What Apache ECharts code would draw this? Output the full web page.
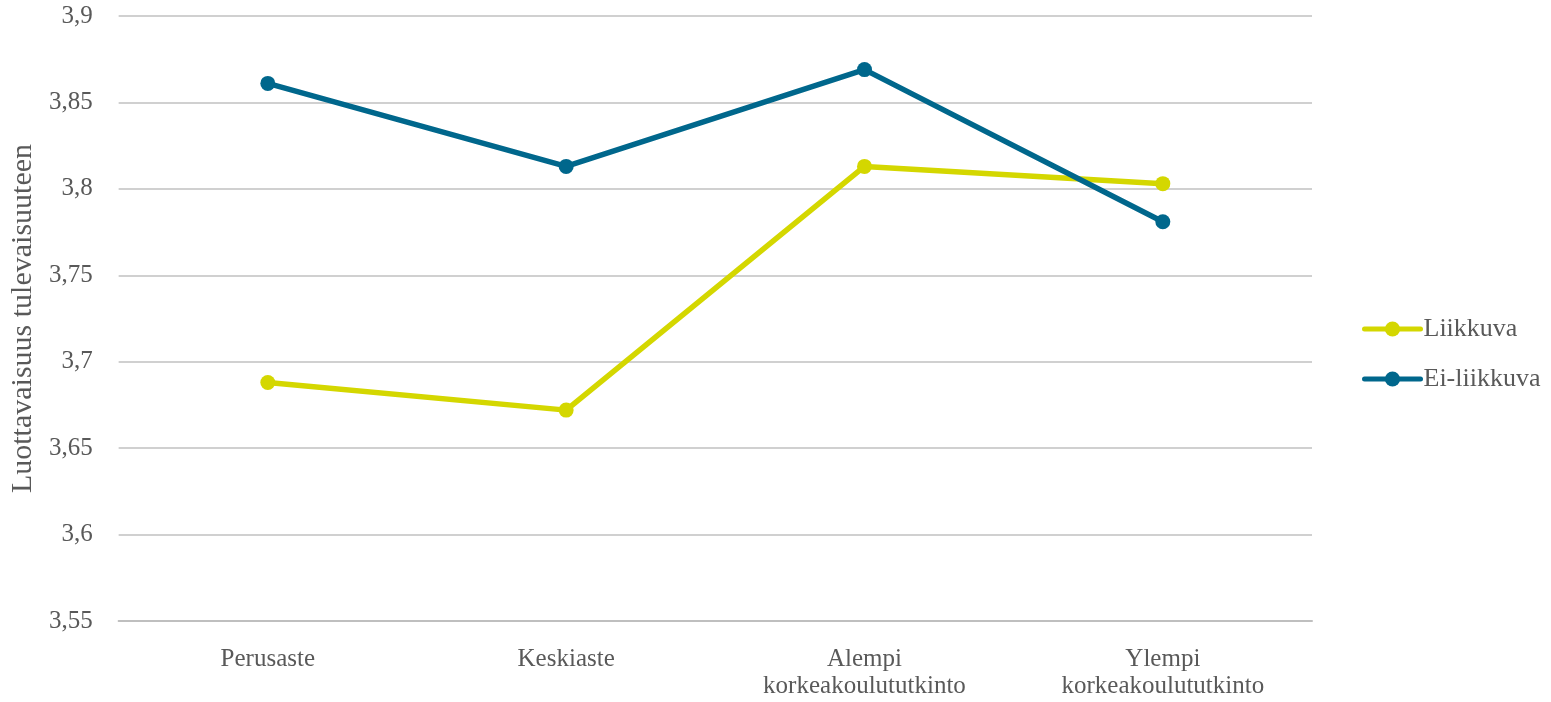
<!DOCTYPE html>
<html>
<head>
<meta charset="utf-8">
<script src="https://cdn.jsdelivr.net/npm/echarts@6/dist/echarts.min.js"></script>
<style>
html,body{margin:0;padding:0;background:#fff;}
#chart{width:1551px;height:702px;}
</style>
</head>
<body>
<div id="chart"></div>
<script>
var categories = ['Perusaste', 'Keskiaste', 'Alempi\nkorkeakoulututkinto', 'Ylempi\nkorkeakoulututkinto'];
var liikkuva = [3.688, 3.672, 3.813, 3.803];
var eiLiikkuva = [3.861, 3.813, 3.869, 3.781];
var yMin = 3.55, yMax = 3.9, yStep = 0.05;
var yTitle = 'Luottavaisuus tulevaisuuteen';

var FONT = 'Liberation Serif';
var TXT = '#595959';

var chart = echarts.init(document.getElementById('chart'));
chart.setOption({
  animation: false,
  backgroundColor: '#fff',
  grid: {left: 117, right: 239, top: 16, bottom: 81},
  legend: {
    orient: 'vertical',
    left: 1357,
    top: 311,
    itemWidth: 56,
    itemHeight: 19,
    itemGap: 24,
    lineStyle: {width: 5, cap: 'round'},
    textStyle: {fontFamily: FONT, fontSize: 26, color: TXT, padding: [0,0,0,-2]},
    data: ['Liikkuva', 'Ei-liikkuva']
  },
  xAxis: {
    type: 'category',
    data: categories,
    boundaryGap: true,
    axisLine: {show: true, lineStyle: {color: '#bfbfbf', width: 2}},
    axisTick: {show: false},
    axisLabel: {fontFamily: FONT, fontSize: 25, color: TXT, margin: 25, lineHeight: 27, interval: 0}
  },
  yAxis: {
    type: 'value',
    min: yMin, max: yMax, interval: yStep,
    name: yTitle,
    nameLocation: 'middle',
    nameGap: 75,
    nameRotate: 90,
    nameTextStyle: {fontFamily: FONT, fontSize: 30, color: TXT},
    axisLine: {show: false},
    axisTick: {show: false},
    splitLine: {lineStyle: {color: '#d0d0d0', width: 2}},
    axisLabel: {
      fontFamily: FONT, fontSize: 25, color: TXT, margin: 26,
      formatter: function (v) { return String(parseFloat(v.toFixed(2))).replace('.', ','); }
    }
  },
  series: [
    {
      name: 'Liikkuva', type: 'line', data: liikkuva,
      symbol: 'circle', symbolSize: 15,
      lineStyle: {color: '#D4D700', width: 5.5},
      itemStyle: {color: '#D4D700'}
    },
    {
      name: 'Ei-liikkuva', type: 'line', data: eiLiikkuva,
      symbol: 'circle', symbolSize: 15,
      lineStyle: {color: '#00678C', width: 5.5},
      itemStyle: {color: '#00678C'}
    }
  ]
});
</script>
</body>
</html>
